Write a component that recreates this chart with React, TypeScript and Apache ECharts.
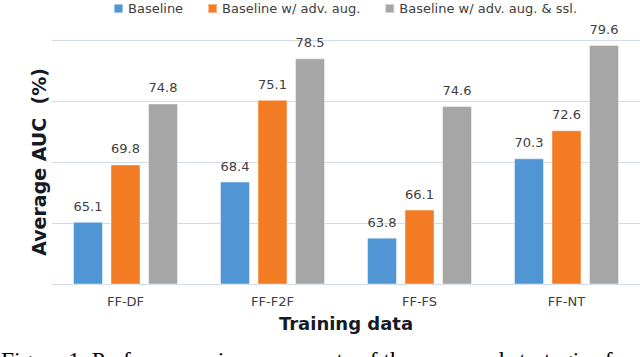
import React, { useEffect, useRef } from "react";
import * as echarts from "echarts";

const categories = ["FF-DF", "FF-F2F", "FF-FS", "FF-NT"];
const seriesNames = ["Baseline", "Baseline w/ adv. aug.", "Baseline w/ adv. aug. & ssl."];
const baseline = [65.1, 68.4, 63.8, 70.3];
const advAug = [69.8, 75.1, 66.1, 72.6];
const advAugSsl = [74.8, 78.5, 74.6, 79.6];
const colors = ["#5096d5", "#f37b23", "#a6a6a6"];
const yMin = 60;
const yMax = 80;
const yInterval = 5;
const xTitle = "Training data";
const yTitle = "Average AUC  (%)";
const caption = "Figure 1. Performance improvements of the proposed strategies f";

export default function App() {
  const ref = useRef<HTMLDivElement>(null);
  useEffect(() => {
    if (!ref.current) return;
    const chart = echarts.init(ref.current, undefined, { renderer: "svg" });
    const font = "DejaVu Sans";
    const values = [baseline, advAug, advAugSsl];
    chart.setOption({
      animation: false,
      backgroundColor: "#ffffff",
      legend: {
        left: 108,
        top: -3,
        icon: "rect",
        itemWidth: 9,
        itemHeight: 9,
        itemGap: 24,
        textStyle: { fontFamily: font, fontSize: 13, color: "#404040" },
        data: seriesNames,
      },
      grid: { left: 52, right: -12, top: 40, bottom: 73, containLabel: false },
      xAxis: {
        type: "category",
        data: categories,
        axisLine: { show: true, lineStyle: { color: "#d3daee", width: 1 } },
        axisTick: { show: false },
        axisLabel: { fontFamily: font, fontSize: 13, color: "#404040", margin: 11 },
        name: xTitle,
        nameLocation: "middle",
        nameGap: 30,
        nameTextStyle: { fontFamily: font, fontSize: 18, fontWeight: "bold", color: "#151a26" },
      },
      yAxis: {
        type: "value",
        min: yMin,
        max: yMax,
        interval: yInterval,
        axisLine: { show: false },
        axisTick: { show: false },
        axisLabel: { show: false },
        splitLine: { lineStyle: { color: "#d3daee", width: 1 } },
        name: yTitle,
        nameLocation: "middle",
        nameRotate: 90,
        nameGap: 4,
        nameTextStyle: { fontFamily: font, fontSize: 19, fontWeight: "bold", color: "#151a26" },
      },
      series: seriesNames.map((name, i) => ({
        name,
        type: "bar",
        data: values[i],
        barWidth: 30,
        barGap: "25%",
        itemStyle: { color: colors[i], borderColor: "rgba(255,255,255,0.45)", borderWidth: 1 },
        label: {
          show: true,
          position: "top",
          distance: 9,
          fontFamily: font,
          fontSize: 13,
          color: "#404040",
          formatter: (p: any) => p.value.toFixed(1),
        },
      })),
      graphic: [
        {
          type: "text",
          left: 1,
          top: 348,
          style: {
            text: caption,
            fontFamily: "Liberation Serif",
            fontSize: 23.5,
            fill: "#000000",
          },
        },
      ],
    });
    return () => chart.dispose();
  }, []);
  return (
    <div
      ref={ref}
      style={{ position: "fixed", left: 0, top: 0, width: 640, height: 357, overflow: "hidden" }}
    />
  );
}
